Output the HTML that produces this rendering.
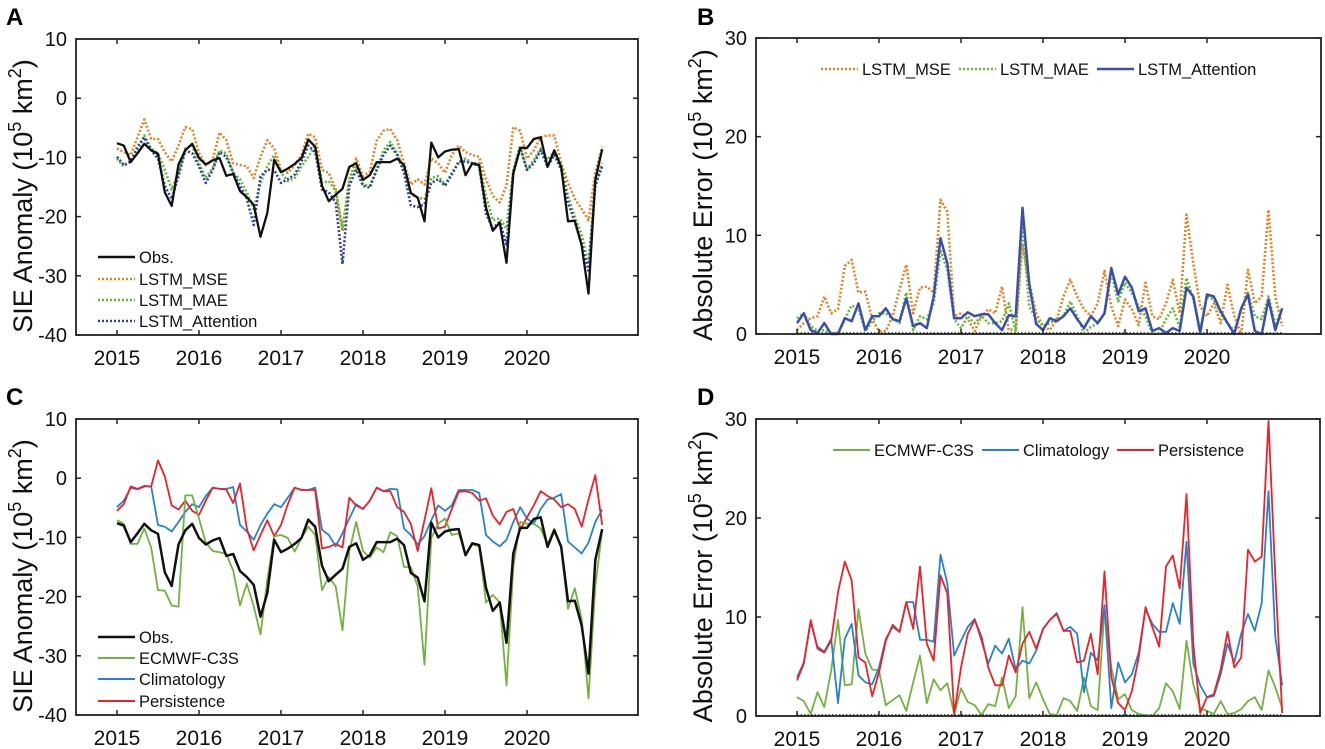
<!DOCTYPE html>
<html><head><meta charset="utf-8">
<style>
html,body{margin:0;padding:0;background:#fff;}
svg{display:block;font-family:"Liberation Sans",Arial,sans-serif;}
</style></head>
<body>
<svg id="fig" width="1325" height="749" viewBox="0 0 1325 749" xmlns="http://www.w3.org/2000/svg"></svg>
<script>
// ---- data (monthly, Jan 2015 - Dec 2020) ----
const years = [2015,2016,2017,2018,2019,2020];
const ticksAnom = [10,0,-10,-20,-30,-40];
const ticksErr = [30,20,10,0];

const obs = [-7.6,-8,-10.8,-9.3,-7.7,-8.8,-9.4,-15.9,-18.2,-11.2,-8.8,-7.7,
-10.1,-11.2,-10.5,-10.1,-13.1,-12.8,-15.7,-16.7,-18,-23.4,-19.4,-10.4,
-12.5,-11.9,-11.1,-10.1,-7,-8.2,-14.8,-17.4,-16.3,-15.3,-11.6,-11,
-13.8,-13,-10.8,-10.8,-10.8,-10.2,-11.3,-16,-16.8,-20.8,-7.5,-10,
-9,-8.7,-8.6,-13,-11,-11.3,-18.5,-22.4,-21,-27.8,-12.7,-8.4,
-8.4,-6.9,-6.6,-11.6,-8.8,-11.6,-20.8,-20.7,-24.9,-33,-13.8,-8.6];

const lstmMse = [-8.5,-9.1,-9.6,-6.6,-3.6,-6.9,-6.9,-9.1,-10.7,-8,-4.9,-5.2,
-9.3,-11.3,-10.4,-5.8,-7.1,-11,-11.3,-11.5,-13.5,-9.9,-7.1,-8.5,
-12.1,-12.6,-11.3,-9.6,-6,-6.6,-12.1,-12.6,-15.4,-22.5,-13.7,-10.2,
-13.2,-12.4,-7.2,-5.5,-5.2,-7.1,-11,-14.6,-13.7,-14.6,-10.2,-11,
-12.6,-9.6,-8,-9.1,-9.6,-9.9,-13.7,-16.5,-17.6,-14.8,-4.9,-5.5,
-10.2,-8.8,-6.6,-6.3,-6.3,-11,-14.3,-17,-18.7,-20.6,-12.6,-8.2];

const lstmMae = [-10.2,-11.5,-10.7,-9.1,-6.3,-8.5,-9.3,-12.1,-15.4,-12.6,-8.5,-8,
-11,-13.5,-11.8,-8.8,-9.3,-12.6,-13.7,-15.9,-18.7,-14.3,-11.5,-9.6,
-12.6,-14,-13.5,-11.5,-9.9,-8,-14.3,-14,-15.7,-22,-13.7,-11.5,
-14.6,-14.8,-12.1,-8.8,-7.4,-9.3,-12.1,-16.2,-16.8,-17,-13.5,-13.2,
-14.6,-12.6,-11,-10.2,-11,-11,-16.5,-20.6,-20.3,-22,-12.1,-8,
-12.1,-10.4,-8.5,-10.4,-9.1,-11,-16.5,-20,-23.1,-28,-14.3,-11];

const lstmAtt = [-9.9,-11.3,-10.7,-8.2,-6.6,-8.8,-10.2,-14.8,-17,-13.2,-8.8,-9.3,
-11.5,-14.3,-12.1,-9.1,-9.9,-12.6,-14.8,-17,-21.4,-13.2,-12.1,-12.1,
-14.3,-13.7,-12.9,-10.7,-8,-9.1,-15.4,-15.9,-17.6,-28,-14.8,-12.1,
-14.8,-15.1,-12.1,-9.6,-8,-9.6,-12.6,-18.1,-18.4,-17.9,-14.3,-13.7,
-14.8,-12.9,-10.7,-10.7,-11,-11.5,-19.5,-22,-20.9,-24.7,-12.6,-8.5,
-12.1,-11,-8.8,-11.5,-9.6,-12.1,-17.6,-20.9,-24.7,-29.1,-14.8,-11.5];

const errMse = [0.4,1.1,1.6,1.8,3.8,2.1,2.5,6.9,7.5,4.2,4.3,1.5,
0.3,0.3,1.8,4.5,7,2.1,4.7,4.8,4.2,13.6,12.4,1.8,
2.1,1.5,0.3,1.8,2.5,2.1,4.8,0.4,0.5,8.9,5.2,2.1,
0.8,0.4,1.5,3.8,5.5,3.8,2.5,1.8,3.1,6.4,2.8,0.8,
3.5,2.5,0.9,5.2,1.8,1.5,3.1,5.5,2.1,12.1,7.2,2.8,
1.8,3.1,1.1,5,1.8,0,6.5,3.1,3.8,12.6,3.8,0.8];

const errMae = [1.6,2.1,0.8,0.3,0.4,0.1,0.1,1.5,2.9,2.6,0.3,1.3,
2.1,2.1,1.5,1.1,4.2,0.4,1.8,1.5,3.1,8.5,6.5,1.5,
0.6,1.8,1.1,1.8,1.1,1.1,1.3,3.1,0.3,10.9,2.8,1.5,
0.8,1.1,1.5,1.8,3.3,1.8,0.1,0.7,1.1,2.1,6.2,3.3,
5.2,4.2,2.8,1.8,0,0.1,1.5,2.6,0.7,5.7,3.5,0.4,
3.8,3.5,2.1,1.1,0.3,2.5,4.2,1.8,1.5,3.8,0.9,2.5];

const errAtt = [1.1,2.1,0.4,0.1,1.1,0,0,1.6,1.3,3.1,0.4,1.8,
1.8,2.6,1.5,1.3,3.6,0.8,1.1,0.6,3.8,9.7,7.2,1.6,
1.6,2.2,1.8,2,2,1.1,0.4,1.9,1.8,12.8,5,1,
0.4,1.6,1.3,1.8,2.6,1.5,0.6,1.8,1.1,2.1,6.7,4,
5.8,4.7,2.3,2.6,0.3,0.6,0.1,0.6,0.3,4.7,3.8,0.1,
4,3.8,2.3,1.1,0,2.6,4,0.3,0,3.5,0.4,2.6];

const ecmwf = [-7.1,-7.7,-11.1,-11.1,-8.5,-11.7,-18.9,-19,-21.5,-21.7,-2.9,-2.9,
-6.8,-10.9,-12.3,-12.5,-12.8,-15.6,-21.5,-17.8,-21.6,-26.4,-17.2,-9.8,
-9.6,-10.1,-12.4,-10.1,-8.2,-9.6,-18.9,-16.7,-18.3,-25.7,-12.3,-7.4,
-12.3,-13.4,-11.7,-12.5,-9.1,-9.8,-15,-15,-18.3,-31.5,-10.1,-7.7,
-6.8,-9.6,-9.3,-12.8,-11.2,-11.5,-21,-19.7,-21,-35,-15,-7.4,
-7.7,-7.7,-8.5,-11.2,-8.5,-11.7,-22.1,-18.6,-23.8,-37.2,-18.3,-8.7];

const clim = [-4.9,-3.8,-1.6,-1.9,-1.4,-1.4,-7.9,-8.2,-9,-7.4,-5.7,-4.4,
-4.9,-3,-1.6,-1.8,-1.8,-1.5,-7.9,-9,-10.4,-7.9,-6,-4.4,
-4.9,-3.3,-1.6,-2,-2,-1.6,-8.7,-9.6,-11.5,-9.3,-6.8,-4.4,
-5.2,-3.8,-1.6,-2.2,-1.8,-1.9,-8.5,-9.6,-11.2,-9.8,-7.1,-4.6,
-5.5,-4.6,-2,-2,-2,-2.5,-9.6,-10.7,-11.5,-10.4,-7.4,-4.9,
-6.8,-7.7,-5.2,-3.6,-3.3,-2.7,-10.7,-11.7,-12.7,-10.9,-7.4,-5.3];

const pers = [-5.5,-4.4,-1.4,-1.8,-1.3,-1.4,3,0.3,-4.6,-5.3,-3.8,-5.5,
-6.2,-3.8,-1.6,-1.8,-1.9,-4.2,-0.9,-8.5,-12.2,-9.6,-7.1,-9.8,
-7.9,-4.4,-1.6,-2,-2,-2,-11.9,-11.6,-11.1,-11.7,-3.3,-4.6,
-5.2,-3.8,-1.6,-2.2,-2.2,-4.9,-5.7,-7.7,-12.3,-7.1,-1.7,-8.5,
-8.2,-5.2,-2.3,-2.2,-2.5,-3.8,-3.4,-6.3,-7.8,-5.7,-5.2,-8.7,
-6.6,-4.6,-2.2,-3,-3.6,-4.9,-4.4,-5.2,-8.2,-3.6,0.5,-7.9];

const errEcmwf = [1.9,1.5,0.2,2.4,0.9,4.6,9.7,3.1,3.2,10.8,6.3,4.7,
4.6,1.1,1.6,2.1,0.5,3.4,6.1,1.3,3.7,2.6,3.3,0.2,
2.8,1.4,1.1,0.1,1.2,1,3.9,0.8,2,11,1.8,3.4,
1.7,0.2,0.1,1.8,1.5,0.5,3.9,1,0.6,10.7,4.9,1.7,
2.2,0.6,0.2,0.1,0,0.8,3.3,2.5,0.7,7.6,3.2,0.8,
0.5,0.2,1.5,0.2,0.3,0.7,1.5,1.9,0.6,4.6,2.9,0.8];

const errClim = [3.9,5.4,9.5,7,6.5,7.8,1.3,7.8,9.3,4.1,3.4,3.2,
4.9,7.8,9,8.5,11.5,11.5,7.7,7.7,7.5,16.3,13.4,6.1,
7.6,9,9.8,7.6,5.3,7.1,6.3,7.8,4.7,5.6,5.3,6.6,
8.8,9.7,10.4,8.6,9,8.3,2.4,6.4,5.6,11.2,0.8,5.4,
3.4,4.2,6.4,10.8,9.3,8.5,8.5,11.4,9.3,17.6,5.3,3.1,
1.9,2,4.2,7.3,5.4,8.3,10.3,8.6,11.4,22.7,8,3.1];

const errPers = [3.6,5.3,9.7,6.8,6.4,7.6,12.5,15.6,13.7,5.9,5.4,2,
4.4,7.6,9.2,8.5,11.5,8.8,15.1,7.3,5.6,14.2,12.4,0.2,
4.9,8.3,9.7,8,4.9,3.1,3.1,6.1,4.4,7.3,8.5,6.8,
8.8,9.7,10.3,8.6,8.6,5.4,5.6,8.3,4.2,14.6,3.9,1.3,
0.6,2.5,5.9,11,9,7,15.1,16.2,12.9,22.4,7.3,0.3,
1.9,2.2,4.7,8.5,4.9,5.9,16.8,15.6,16.1,29.8,14.1,0.3];

// ---- drawing ----
const NS = "http://www.w3.org/2000/svg";
const svg = document.getElementById('fig');
function mk(tag, attrs, parent){ const e=document.createElementNS(NS,tag); for(const k in attrs) e.setAttribute(k,attrs[k]); (parent||svg).appendChild(e); return e; }

const C_OBS="#111", C_MSE="#e8821e", C_MAE="#5cbf2e", C_ATT="#2e3fa8", C_ATTS="#3a4fae";
const C_EC="#72b340", C_CL="#2483d0", C_PE="#ee2028";

function panel(cfg){
  const g = mk('g',{});
  
  
  const L=cfg.L,T=cfg.T,R=cfg.R,B=cfg.B;
  const ys = v => B - (v-cfg.ymin)/(cfg.ymax-cfg.ymin)*(B-T);
  const xs = i => cfg.x0 + i*82/12;
  const lt = mk('text',{x:cfg.lx,y:cfg.ly,'font-size':24,'font-weight':'bold',fill:'#000'},g);
  lt.textContent = cfg.letter;
  
  
  if(cfg.zeroLine){
    const zl = mk('line',{x1:xs(0),x2:xs(71),y1:ys(0)-1,y2:ys(0)-1,stroke:'#000','stroke-width':1.2,'stroke-dasharray':'1.5 2'},g);
    
    
  }
  cfg.series.forEach(s=>{
    let d='';
    s.data.forEach((v,i)=>{ d += (i?'L':'M')+xs(i).toFixed(1)+','+ys(v).toFixed(1); });
    const p = mk('path',{d:d,fill:'none',stroke:s.color,'stroke-width':s.w,'stroke-linejoin':'round'},g);
    if(s.dash) p.setAttribute('stroke-dasharray',s.dash);
    
    
  });
  const bx = mk('rect',{x:L,y:T,width:R-L,height:B-T,fill:'none',stroke:'#222','stroke-width':1.8},g);
  
  
  cfg.yticks.forEach(v=>{
    const y=ys(v);
    mk('line',{x1:L,x2:L+5,y1:y,y2:y,stroke:'#222','stroke-width':1.5},g);
    mk('line',{x1:R-5,x2:R,y1:y,y2:y,stroke:'#222','stroke-width':1.5},g);
    const t = mk('text',{x:L-9,y:y+7,'font-size':20,'text-anchor':'end',fill:'#111'},g);
    t.textContent = String(v);
    
    
  });
  years.forEach((yr,k)=>{
    const x = xs(k*12);
    mk('line',{x1:x,x2:x,y1:B,y2:B-5,stroke:'#222','stroke-width':1.5},g);
    mk('line',{x1:x,x2:x,y1:T,y2:T+5,stroke:'#222','stroke-width':1.5},g);
    const t = mk('text',{x:x,y:B+30,'font-size':21,'text-anchor':'middle',fill:'#111'},g);
    t.textContent = String(yr);
    
    
  });
  const cy=(T+B)/2+9;
  const yt = mk('text',{x:0,y:0,'font-size':27,'text-anchor':'middle',fill:'#111',transform:`translate(${cfg.tx},${cy}) rotate(-90)`},g);
  yt.innerHTML = cfg.title+' (10<tspan dy="-11" font-size="18">5</tspan><tspan dy="11"> km</tspan><tspan dy="-11" font-size="18">2</tspan><tspan dy="11">)</tspan>';
  
  
  cfg.legend.forEach(e=>{
    const lg = mk('g',{},g);
    
    
    const ln = mk('line',{x1:e.x,x2:e.x+37,y1:e.y,y2:e.y,stroke:e.color,'stroke-width':e.w},lg);
    if(e.dash) ln.setAttribute('stroke-dasharray',e.dash);
    const t = mk('text',{x:e.x+41,y:e.y+6,'font-size':16.5,fill:'#111'},lg);
    t.textContent = e.label;
  });
}

const DOT='2 2';
panel({name:'panel-a',letter:'A',lx:6,ly:25,L:76,T:39,R:638,B:335,ymin:-40,ymax:10,x0:117,tx:32,
  yticks:ticksAnom,title:'SIE Anomaly',
  series:[{id:'lstm-mse',data:lstmMse,color:C_MSE,w:2.6,dash:DOT},
          {id:'lstm-mae',data:lstmMae,color:C_MAE,w:2.6,dash:DOT},
          {id:'lstm-attention',data:lstmAtt,color:C_ATT,w:2.6,dash:DOT},
          {id:'obs',data:obs,color:C_OBS,w:2.3}],
  legend:[{id:'obs',label:'Obs.',x:98,y:257,color:C_OBS,w:2.5},
          {id:'lstm-mse',label:'LSTM_MSE',x:98,y:279,color:C_MSE,w:2.6,dash:DOT},
          {id:'lstm-mae',label:'LSTM_MAE',x:98,y:300,color:C_MAE,w:2.6,dash:DOT},
          {id:'lstm-attention',label:'LSTM_Attention',x:98,y:321,color:C_ATT,w:2.6,dash:DOT}]});

panel({name:'panel-b',letter:'B',lx:697,ly:25,L:756,T:38,R:1321,B:334,ymin:0,ymax:30,x0:797,tx:712,
  yticks:ticksErr,title:'Absolute Error',zeroLine:true,
  series:[{id:'lstm-mse-error',data:errMse,color:C_MSE,w:2.6,dash:DOT},
          {id:'lstm-mae-error',data:errMae,color:C_MAE,w:2.6,dash:DOT},
          {id:'lstm-attention-error',data:errAtt,color:C_ATTS,w:2.5}],
  legend:[{id:'lstm-mse',label:'LSTM_MSE',x:821,y:69,color:C_MSE,w:2.6,dash:DOT},
          {id:'lstm-mae',label:'LSTM_MAE',x:959,y:69,color:C_MAE,w:2.6,dash:DOT},
          {id:'lstm-attention',label:'LSTM_Attention',x:1097,y:69,color:C_ATTS,w:2.5}]});

panel({name:'panel-c',letter:'C',lx:6,ly:405,L:76,T:419,R:638,B:715,ymin:-40,ymax:10,x0:117,tx:32,
  yticks:ticksAnom,title:'SIE Anomaly',
  series:[{id:'climatology',data:clim,color:C_CL,w:1.8},
          {id:'persistence',data:pers,color:C_PE,w:1.8},
          {id:'ecmwf-c3s',data:ecmwf,color:C_EC,w:1.8},
          {id:'obs',data:obs,color:C_OBS,w:2.5}],
  legend:[{id:'obs',label:'Obs.',x:98,y:637,color:C_OBS,w:2.5},
          {id:'ecmwf-c3s',label:'ECMWF-C3S',x:98,y:658,color:C_EC,w:2},
          {id:'climatology',label:'Climatology',x:98,y:679,color:C_CL,w:2},
          {id:'persistence',label:'Persistence',x:98,y:701,color:C_PE,w:2}]});

panel({name:'panel-d',letter:'D',lx:697,ly:405,L:756,T:419,R:1320,B:716,ymin:0,ymax:30,x0:797,tx:712,
  yticks:ticksErr,title:'Absolute Error',zeroLine:true,
  series:[{id:'ecmwf-c3s-error',data:errEcmwf,color:C_EC,w:1.8},
          {id:'climatology-error',data:errClim,color:C_CL,w:1.8},
          {id:'persistence-error',data:errPers,color:C_PE,w:1.8}],
  legend:[{id:'ecmwf-c3s',label:'ECMWF-C3S',x:833,y:450,color:C_EC,w:2},
          {id:'climatology',label:'Climatology',x:982,y:450,color:C_CL,w:2},
          {id:'persistence',label:'Persistence',x:1117,y:450,color:C_PE,w:2}]});
</script>
</body></html>
